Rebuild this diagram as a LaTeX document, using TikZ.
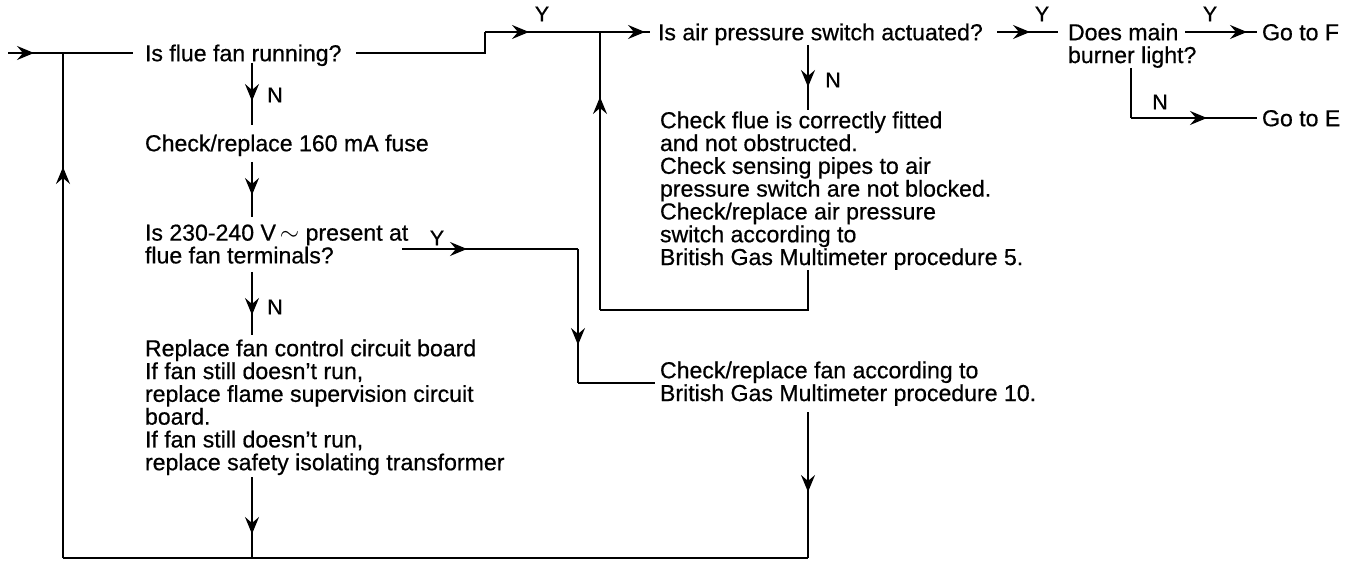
\documentclass[tikz,border=0pt]{standalone}
\usepackage{fontspec}
\setmainfont{Liberation Sans}[FakeBold=0.6]
\usetikzlibrary{arrows.meta,decorations.markings,calc}
\begin{document}
\begin{tikzpicture}[x=1pt,y=-1pt,
  every node/.style={inner sep=0pt,outer sep=0pt},
  txt/.style={font=\fontsize{23.1}{22.8}\selectfont, anchor=west, text height=16.5pt, text depth=0pt},
  mtxt/.style={font=\fontsize{23.1}{22.8}\selectfont, anchor=north west, align=left},
  lbl/.style={font=\fontsize{21.5}{21.5}\selectfont},
  ln/.style={line width=1.7pt},
  arrat/.style={ln, decoration={markings, mark=at position #1 with {\arrow{Stealth[length=17pt,width=14pt,inset=6pt]}}}, postaction={decorate}}
]
\useasboundingbox (0,0) rectangle (1350,561);

% text nodes
\node[txt] (flue) at (145,53) {Is flue fan running?};
\node[txt] (fuse) at (145,143) {Check/replace 160 mA fuse};
\node[mtxt] (volt) at (145,224.5) {Is 230-240 V\,$\sim$ present at\\flue fan terminals?};
\node[mtxt] (repl) at (145,339.5) {Replace fan control circuit board\\If fan still doesn’t run,\\replace flame supervision circuit\\board.\\If fan still doesn’t run,\\replace safety isolating transformer};
\node[txt] (air) at (658,32) {Is air pressure switch actuated?};
\node[mtxt] (chk) at (660,111.5) {Check flue is correctly fitted\\and not obstructed.\\Check sensing pipes to air\\pressure switch are not blocked.\\Check/replace air pressure\\switch according to\\British Gas Multimeter procedure 5.};
\node[mtxt] (fan) at (660,361.5) {Check/replace fan according to\\British Gas Multimeter procedure 10.};
\node[mtxt] (burn) at (1068,23.5) {Does main\\burner light?};
\node[txt] (goF) at (1262,32) {Go to F};
\node[txt] (goE) at (1262,118) {Go to E};

% labels
\node[lbl] (lY1) at (542,14) {Y};
\node[lbl] (lY2) at (1042,14) {Y};
\node[lbl] (lY3) at (1210,14) {Y};
\node[lbl] (lY4) at (437,238) {Y};
\node[lbl] (lN1) at (275,95) {N};
\node[lbl] (lN2) at (275,307) {N};
\node[lbl] (lN3) at (833,80) {N};
\node[lbl] (lN4) at (1160,102) {N};

% coordinates
\coordinate (in) at (8,53);
\coordinate (j1) at (63,53);
\coordinate (bl) at (63,558);
\coordinate (br) at (808,558);
\coordinate (s1a) at (252,63);  \coordinate (s1b) at (252,125);
\coordinate (s2a) at (252,162); \coordinate (s2b) at (252,217);
\coordinate (s3a) at (252,272); \coordinate (s3b) at (252,335);
\coordinate (s4a) at (252,477); \coordinate (s4b) at (252,558);
\coordinate (y1a) at ([xshift=15pt]flue.east);
\coordinate (k1) at (485,53);
\coordinate (k2) at (485,32);
\coordinate (jA) at (600,32);
\coordinate (airW) at ([xshift=-8pt]air.west);
\coordinate (lp1) at (808,270);
\coordinate (lp2) at (808,310);
\coordinate (lp3) at (600,310);
\coordinate (an1) at (808,45);
\coordinate (an2) at (808,110);
\coordinate (vy1) at (402,249);
\coordinate (vy2) at (578,249);
\coordinate (vy3) at (578,383);
\coordinate (fw) at (655,383);
\coordinate (fb1) at (808,412);
\coordinate (ab1) at (997,32);
\coordinate (ab2) at (1058,32);
\coordinate (bf1) at (1185,32);
\coordinate (bf2) at (1257,32);
\coordinate (bn1) at (1131,68);
\coordinate (bn2) at (1131,118);
\coordinate (bn3) at (1257,118);

% connectors
\draw[arrat=26pt] (in) -- ([xshift=-12pt]flue.west);
\draw[arrat=391pt] (bl) -- (j1);
\draw[ln] (bl) -- (br);
\draw[arrat=38pt] (s1a) -- (s1b);
\draw[arrat=33pt] (s2a) -- (s2b);
\draw[arrat=43pt] (s3a) -- (s3b);
\draw[arrat=57pt] (s4a) -- (s4b);
\draw[ln] (y1a) -- (k1) -- (k2);
\draw[arrat=44pt] (k2) -- (jA);
\draw[arrat=45pt] (jA) -- (airW);
\draw[ln] (lp1) -- (lp2) -- (lp3);
\draw[arrat=213pt] (lp3) -- (jA);
\draw[arrat=42pt] (an1) -- (an2);
\draw[arrat=65pt] (vy1) -- (vy2);
\draw[arrat=96pt] (vy2) -- (vy3);
\draw[ln] (vy3) -- (fw);
\draw[arrat=80pt] (fb1) -- (br);
\draw[arrat=33pt] (ab1) -- (ab2);
\draw[arrat=62pt] (bf1) -- (bf2);
\draw[ln] (bn1) -- (bn2);
\draw[arrat=76pt] (bn2) -- (bn3);
\end{tikzpicture}
\end{document}
